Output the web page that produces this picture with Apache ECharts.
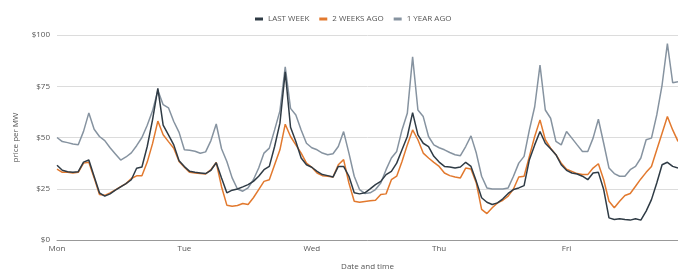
<!DOCTYPE html>
<html>
<head>
<meta charset="utf-8">
<script src="https://cdn.jsdelivr.net/npm/echarts@6/dist/echarts.min.js"></script>
<style>
  html, body { margin: 0; padding: 0; background: #fff; }
  #main { width: 678px; height: 276px; }
</style>
</head>
<body>
<div id="main"></div>
<script>
// hourly prices, Mon 00:00 to Fri 21:00
var days = ['Mon', 'Tue', 'Wed', 'Thu', 'Fri'];
var hoursPerDay = 24;
var pointCount = 118;
var yTicks = [0, 25, 50, 75, 100];

var lastWeek = [
    36.5, 34, 33.3, 33, 33.3, 38, 39, 31, 23, 21.4, 22.5, 24.3, 25.9, 27.5, 29.4, 35, 35.6, 45.6, 58.6, 74, 56, 51.3, 46.4, 38.7,
    35.8, 33.5, 33, 32.7, 32.4, 34, 37.7, 30.3, 23, 24.3, 24.9, 25.9, 27, 28.6, 31.1, 34.3, 35.9, 45.6, 57, 82, 55, 48, 40, 36.7,
    35.5, 33.5, 31.9, 31.4, 30.7, 35.9, 35.9, 31.1, 23, 22.5, 23, 24.9, 27, 28.6, 31.9, 33.5, 37.5, 44, 50.5, 62.1, 51.3, 47.2, 45.6, 40.8,
    38, 35.9, 35.6, 35.1, 35.6, 37.9, 35.9, 28.6, 20.6, 18.4, 17.3, 18.1, 20.1, 22.7, 24.6, 25.4, 26.5, 39.2, 46.4, 52.9, 47.2, 44.5, 41.6, 36.7,
    34, 32.7, 32.2, 31.1, 29.4, 32.7, 33, 24.6, 10.8, 10, 10.4, 10, 9.7, 10.4, 9.7, 14.1, 19.7, 27.8, 36.7, 37.9, 35.9, 35.1
];
var twoWeeksAgo = [
    34.6, 33, 33, 32.7, 33, 37.5, 37.9, 30.3, 22.2, 21.8, 23, 24.5, 26, 27.5, 30, 31.3, 31.3, 38, 47, 58, 51.3, 48, 44.8, 38.3,
    35.5, 33, 32.7, 32.4, 32.2, 34.3, 37.8, 26, 17, 16.5, 16.8, 17.8, 17.3, 20.6, 24.6, 28.6, 29.4, 36.7, 44, 56.5, 50.5, 46.4, 42.4, 37.5,
    35.5, 32.7, 31.4, 31.1, 30.7, 36.7, 39.2, 27.8, 18.9, 18.4, 18.8, 19.1, 19.4, 22.2, 22.5, 29.4, 31.1, 38.3, 46.4, 53.7, 48.9, 42.4, 40, 37.9,
    35.9, 32.7, 31.4, 30.7, 30.3, 35.1, 34.6, 27.8, 14.9, 12.9, 15.7, 18.1, 19.4, 21.4, 24.9, 30.7, 31.1, 40.8, 50.5, 58.6, 48.9, 44.8, 41.6, 37.5,
    34.5, 33.5, 32.4, 31.9, 31.9, 35.1, 37.2, 29.4, 18.9, 15.7, 18.9, 21.7, 22.7, 26.2, 29.8, 33, 35.9, 44, 52.1, 60.2, 53.7, 48.1
];
var oneYearAgo = [
    50, 48, 47.5, 46.8, 46.5, 53, 62, 54, 50.5, 48.5, 45, 42, 39, 40.5, 42.5, 46, 50, 56, 63, 73, 66, 64.5, 57.8, 52.5,
    44, 43.8, 43.3, 42.3, 43, 48.5, 56.6, 44.5, 38.3, 30.3, 24.9, 23.8, 25.4, 29.4, 35.1, 42.4, 44.8, 53.7, 63, 84.5, 64.2, 61, 53.7, 47.2,
    45, 44, 42.4, 41.6, 42.1, 45.6, 52.9, 42.4, 31.1, 24.6, 22.7, 23, 24.6, 27.8, 34.3, 40, 43.2, 53.7, 61.8, 89.3, 63.4, 60.2, 50.5, 46.4,
    45, 44, 42.7, 41.6, 41.1, 45.6, 50.8, 42.4, 31.1, 25.4, 24.9, 24.9, 24.9, 25.4, 31.1, 37.5, 40.8, 53.7, 65, 85.3, 63.4, 59.4, 48.1, 46.4,
    52.9, 49.7, 46.4, 43.2, 43.2, 49.7, 58.9, 47.2, 35.1, 32.4, 31.1, 31.1, 34.3, 35.9, 40, 48.9, 49.7, 61, 75.6, 95.8, 76.7, 77.2
];

var categories = [];
for (var k = 0; k < pointCount; k++) {
    var h = k % hoursPerDay;
    categories.push(days[Math.floor(k / hoursPerDay)] + ' ' + (h < 10 ? '0' : '') + h + ':00');
}

var font = 'Open Sans';

var option = {
    animation: false,
    textStyle: { fontFamily: font },
    color: ['#2f3b45', '#e2792e', '#8693a0'],
    legend: {
        top: 10,
        left: 250,
        itemWidth: 8,
        itemHeight: 3,
        itemGap: 10,
        icon: 'rect',
        textStyle: { fontSize: 8, color: '#555', fontFamily: font },
        data: ['LAST WEEK', '2 WEEKS AGO', '1 YEAR AGO']
    },
    grid: { left: 57, right: 0, top: 35, bottom: 35 },
    xAxis: {
        type: 'category',
        boundaryGap: false,
        data: categories,
        name: 'Date and time',
        nameLocation: 'middle',
        nameGap: 23,
        nameTextStyle: { fontSize: 8, color: '#555' },
        axisLine: { lineStyle: { color: '#999', width: 1 } },
        axisTick: { show: false },
        axisLabel: {
            interval: hoursPerDay - 1,
            margin: 5,
            fontSize: 8,
            color: '#555',
            formatter: function(v) { return v.split(' ')[0]; }
        }
    },
    yAxis: {
        type: 'value',
        min: yTicks[0],
        max: yTicks[yTicks.length - 1],
        interval: 25,
        name: 'price per MW',
        nameLocation: 'middle',
        nameGap: 37,
        nameTextStyle: { fontSize: 8, color: '#555' },
        axisLine: { show: false },
        axisTick: { show: false },
        splitLine: { lineStyle: { color: '#dcdcdc', width: 1 } },
        axisLabel: {
            margin: 7,
            fontSize: 8,
            color: '#555',
            formatter: function(v) { return '$' + v; }
        }
    },
    series: [{
        name: 'LAST WEEK',
        type: 'line',
        data: lastWeek,
        showSymbol: false,
        z: 4,
        lineStyle: { width: 1.5 }
    }, {
        name: '2 WEEKS AGO',
        type: 'line',
        data: twoWeeksAgo,
        showSymbol: false,
        z: 3,
        lineStyle: { width: 1.5 }
    }, {
        name: '1 YEAR AGO',
        type: 'line',
        data: oneYearAgo,
        showSymbol: false,
        z: 2,
        lineStyle: { width: 1.5 }
    }]
};

echarts.init(document.getElementById('main')).setOption(option);
</script>
</body>
</html>
